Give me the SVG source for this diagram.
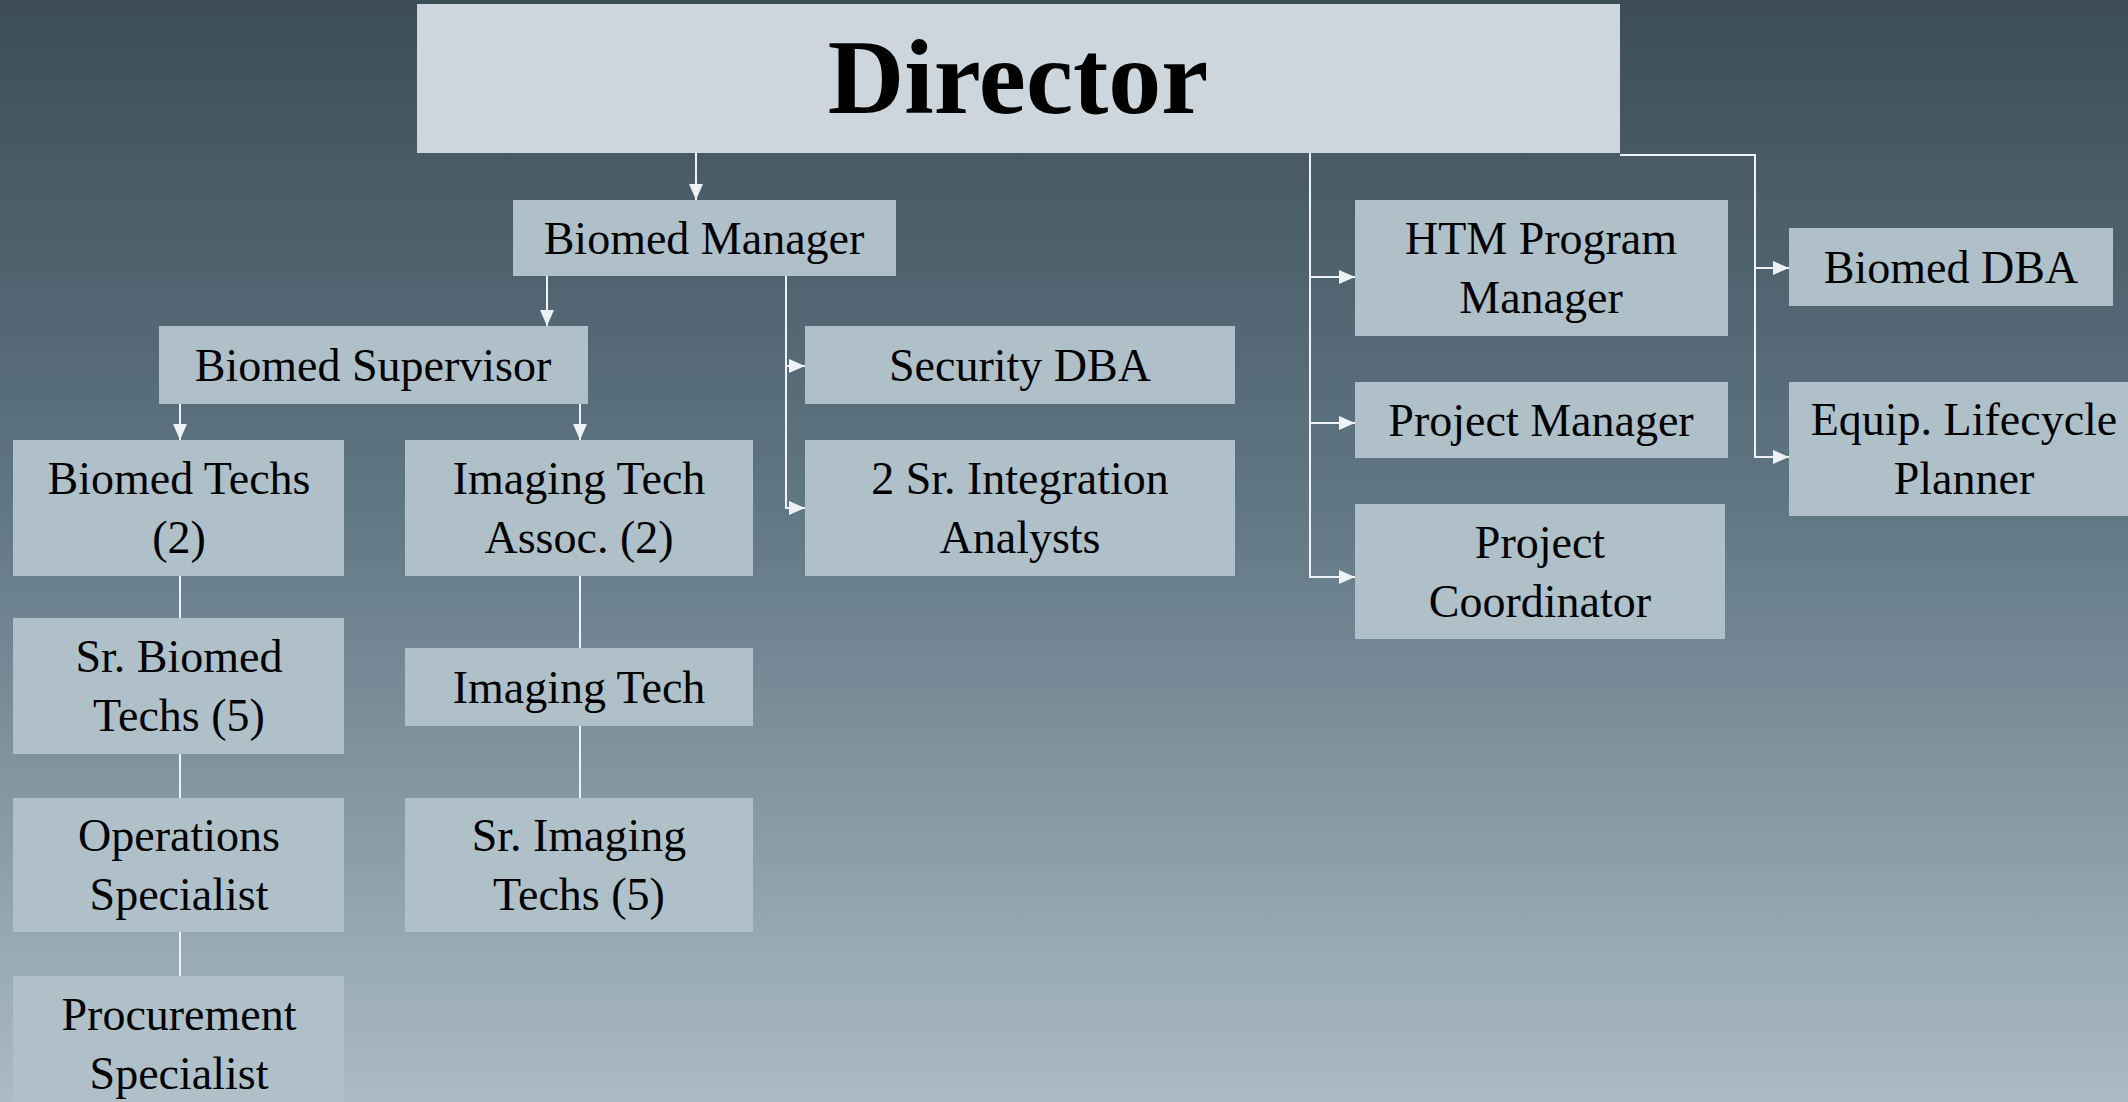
<svg xmlns="http://www.w3.org/2000/svg" width="2128" height="1102" viewBox="0 0 2128 1102">
  <defs>
    <linearGradient id="bg" x1="0" y1="0" x2="0" y2="1">
      <stop offset="0" stop-color="#3c4d57"/>
      <stop offset="0.45" stop-color="#5f7683"/>
      <stop offset="1" stop-color="#abbbc3"/>
    </linearGradient>
    <marker id="arrow" markerUnits="userSpaceOnUse" markerWidth="16" markerHeight="14" refX="16" refY="7" orient="auto">
      <path d="M0,0 L16,7 L0,14 z" fill="#eef2f4"/>
    </marker>
    <style>
      .box { fill: #afc0c8; }
      .top { fill: #cdd6dd; }
      .lbl { font-family: "Liberation Serif", "DejaVu Serif", serif; font-size: 46px; fill: #000; text-anchor: middle; }
      .title { font-family: "Liberation Serif", "DejaVu Serif", serif; font-size: 106px; font-weight: bold; fill: #000; text-anchor: middle; }
      .link { fill: none; stroke: #eef2f4; stroke-width: 2; }
      .arr { marker-end: url(#arrow); }
    </style>
  </defs>

  <rect x="0" y="0" width="2128" height="1102" fill="url(#bg)"/>

  <!-- reporting lines -->
  <g id="connectors">
    <path class="link arr" d="M696 153 V200"/>
    <path class="link arr" d="M547 276 V326"/>
    <path class="link arr" d="M786 276 V366 H805"/>
    <path class="link arr" d="M786 276 V508 H805"/>
    <path class="link arr" d="M180 404 V440"/>
    <path class="link arr" d="M580 404 V440"/>
    <path class="link" d="M180 576 V618"/>
    <path class="link" d="M180 754 V798"/>
    <path class="link" d="M180 932 V976"/>
    <path class="link" d="M580 576 V648"/>
    <path class="link" d="M580 726 V798"/>
    <path class="link arr" d="M1310 153 V277 H1355"/>
    <path class="link arr" d="M1310 153 V423 H1355"/>
    <path class="link arr" d="M1310 153 V577 H1355"/>
    <path class="link arr" d="M1620 155 H1755 V268 H1789"/>
    <path class="link arr" d="M1620 155 H1755 V457 H1789"/>
  </g>

  <g id="director">
    <rect class="top" x="417" y="4" width="1203" height="149"/>
    <text class="title" x="1018" y="113">Director</text>
  </g>

  <g id="biomed-manager">
    <rect class="box" x="513" y="200" width="383" height="76"/>
    <text class="lbl" x="704" y="254">Biomed Manager</text>
  </g>

  <g id="biomed-supervisor">
    <rect class="box" x="159" y="326" width="429" height="78"/>
    <text class="lbl" x="373" y="381">Biomed Supervisor</text>
  </g>

  <g id="security-dba">
    <rect class="box" x="805" y="326" width="430" height="78"/>
    <text class="lbl" x="1020" y="381">Security DBA</text>
  </g>

  <g id="integration-analysts">
    <rect class="box" x="805" y="440" width="430" height="136"/>
    <text class="lbl" x="1020" y="494">2 Sr. Integration</text>
    <text class="lbl" x="1020" y="553">Analysts</text>
  </g>

  <g id="biomed-techs">
    <rect class="box" x="13" y="440" width="331" height="136"/>
    <text class="lbl" x="179" y="494">Biomed Techs</text>
    <text class="lbl" x="179" y="553">(2)</text>
  </g>

  <g id="imaging-tech-assoc">
    <rect class="box" x="405" y="440" width="348" height="136"/>
    <text class="lbl" x="579" y="494">Imaging Tech</text>
    <text class="lbl" x="579" y="553">Assoc. (2)</text>
  </g>

  <g id="sr-biomed-techs">
    <rect class="box" x="13" y="618" width="331" height="136"/>
    <text class="lbl" x="179" y="672">Sr. Biomed</text>
    <text class="lbl" x="179" y="731">Techs (5)</text>
  </g>

  <g id="imaging-tech">
    <rect class="box" x="405" y="648" width="348" height="78"/>
    <text class="lbl" x="579" y="703">Imaging Tech</text>
  </g>

  <g id="operations-specialist">
    <rect class="box" x="13" y="798" width="331" height="134"/>
    <text class="lbl" x="179" y="851">Operations</text>
    <text class="lbl" x="179" y="910">Specialist</text>
  </g>

  <g id="sr-imaging-techs">
    <rect class="box" x="405" y="798" width="348" height="134"/>
    <text class="lbl" x="579" y="851">Sr. Imaging</text>
    <text class="lbl" x="579" y="910">Techs (5)</text>
  </g>

  <g id="procurement-specialist">
    <rect class="box" x="13" y="976" width="331" height="136"/>
    <text class="lbl" x="179" y="1030">Procurement</text>
    <text class="lbl" x="179" y="1089">Specialist</text>
  </g>

  <g id="htm-program-manager">
    <rect class="box" x="1355" y="200" width="373" height="136"/>
    <text class="lbl" x="1541" y="254">HTM Program</text>
    <text class="lbl" x="1541" y="313">Manager</text>
  </g>

  <g id="project-manager">
    <rect class="box" x="1355" y="382" width="373" height="76"/>
    <text class="lbl" x="1541" y="436">Project Manager</text>
  </g>

  <g id="project-coordinator">
    <rect class="box" x="1355" y="504" width="370" height="135"/>
    <text class="lbl" x="1540" y="558">Project</text>
    <text class="lbl" x="1540" y="617">Coordinator</text>
  </g>

  <g id="biomed-dba">
    <rect class="box" x="1789" y="228" width="324" height="78"/>
    <text class="lbl" x="1951" y="283">Biomed DBA</text>
  </g>

  <g id="equip-lifecycle-planner">
    <rect class="box" x="1789" y="382" width="350" height="134"/>
    <text class="lbl" x="1964" y="435">Equip. Lifecycle</text>
    <text class="lbl" x="1964" y="494">Planner</text>
  </g>
</svg>
